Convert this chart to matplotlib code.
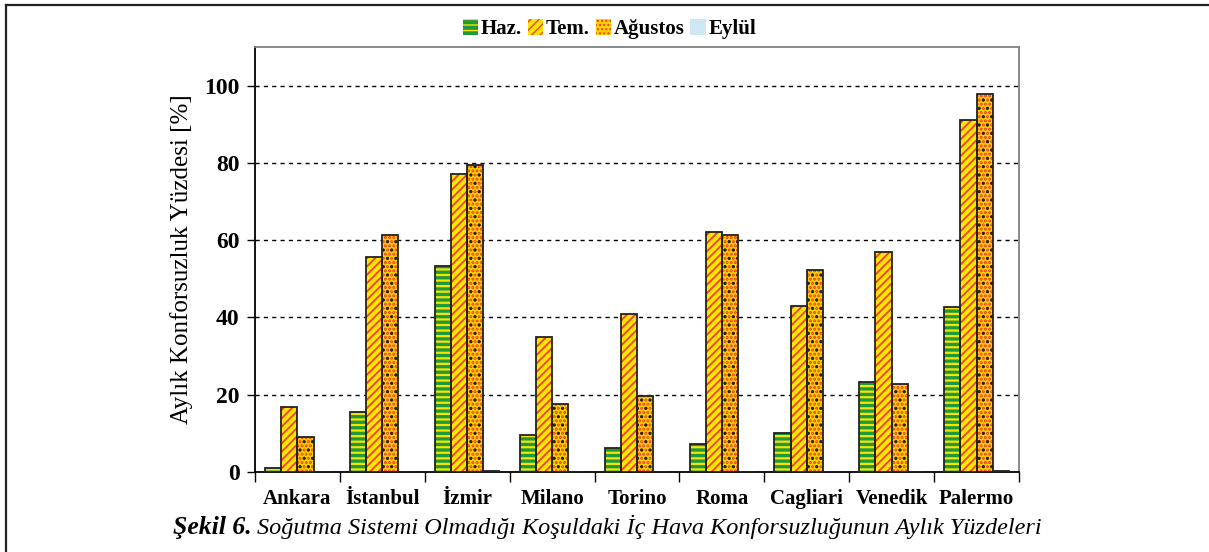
import numpy as np
import matplotlib
matplotlib.use('Agg')
import matplotlib.pyplot as plt
from matplotlib.patches import Patch
from matplotlib.lines import Line2D

plt.rcParams['font.family'] = ['Liberation Serif', 'DejaVu Serif']

cities = ['Ankara', 'İstanbul', 'İzmir', 'Milano', 'Torino', 'Roma', 'Cagliari', 'Venedik', 'Palermo']
months = ['Haz.', 'Tem.', 'Ağustos', 'Eylül']
haz = [1.0, 15.6, 53.2, 9.5, 6.2, 7.3, 10.0, 23.3, 42.7]
tem = [16.8, 55.7, 77.2, 35.0, 40.8, 62.1, 43.0, 57.0, 91.2]
agu = [9.0, 61.3, 79.4, 17.5, 19.8, 61.4, 52.2, 22.8, 97.8]
eyl = [0.0, 0.0, 0.3, 0.0, 0.0, 0.0, 0.0, 0.0, 0.3]
yticks = [0, 20, 40, 60, 80, 100]

# fill colour, list of (hatch, hatch colour, hatch linewidth)
styles = [
    ('#1f9a3a', [('---', '#f7e400', 1.6)]),
    ('#ffe600', [('////', '#f0402a', 1.3)]),
    ('#ffd200', [('....', '#f03a22', 1.5), ('..', '#222222', 1.1)]),
    ('#cfe6f5', []),
]

fig = plt.figure(figsize=(12.09, 5.52), dpi=100)
ax = fig.add_axes([0.2109, 0.1449, 0.6319, 0.770])

x = np.arange(len(cities))
w = 0.19
series = [haz, tem, agu, eyl]
for k, vals in enumerate(series):
    pos = x + (k - 1.5) * w
    face, hatches = styles[k]
    ax.bar(pos, vals, w, color=face, linewidth=0, zorder=3)
    for h, hc, lw in hatches:
        with plt.rc_context({'hatch.linewidth': lw}):
            ax.bar(pos, vals, w, fill=False, hatch=h, edgecolor=hc,
                   linewidth=0, zorder=4)
    ax.bar(pos, vals, w, fill=False, edgecolor='#222222', linewidth=1.3, zorder=5)

ax.set_xlim(-0.5, len(cities) - 0.5)
ax.set_ylim(0, 110)
ax.set_yticks(yticks)
ax.set_yticklabels([str(t) for t in yticks], fontsize=17, fontweight='bold')
ax.set_xticks(x)
ax.set_xticklabels(cities, fontsize=15, fontweight='bold')
ax.set_xticks(np.arange(-0.5, len(cities)), minor=True)
ax.tick_params(axis='x', which='major', length=0, pad=12)
ax.tick_params(axis='x', which='minor', length=7, width=1, direction='out')
ax.tick_params(axis='y', length=6, width=1, direction='out', pad=5)
ax.set_ylabel('Aylık Konforsuzluk Yüzdesi [%]', fontsize=18, labelpad=8)

for y in yticks[1:]:
    ax.axhline(y, color='black', linestyle=(0, (3, 3)), linewidth=1.0, zorder=1)

ax.spines['left'].set_color('black')
ax.spines['bottom'].set_color('black')
ax.spines['top'].set_color('#808080')
ax.spines['right'].set_color('#808080')
for s in ax.spines.values():
    s.set_linewidth(1.3)

# legend with the same patterned swatches
handles = []
for k, name in enumerate(months):
    face, hatches = styles[k]
    h = hatches[0][0] if hatches else None
    hc = hatches[0][1] if hatches else '#222222'
    handles.append(Patch(facecolor=face, edgecolor=hc, hatch=h, linewidth=0))
fig.legend(handles, months, loc='center', bbox_to_anchor=(0.504, 0.947), ncol=4,
           frameon=False, prop={'size': 15, 'weight': 'bold'},
           handlelength=0.75, handleheight=0.75, handletextpad=0.1,
           columnspacing=0.3, borderaxespad=0)

# caption
fig.text(0.2085, 0.045, 'Şekil 6.', fontsize=18.5, fontweight='bold', style='italic',
         ha='right', va='center')
fig.text(0.2125, 0.045, 'Soğutma Sistemi Olmadığı Koşuldaki İç Hava Konforsuzluğunun Aylık Yüzdeleri',
         fontsize=17.5, style='italic', ha='left', va='center')

# outer frame lines
fig.add_artist(Line2D([0.005, 0.005], [0.0, 0.991], color='#222222', linewidth=1.6,
                      transform=fig.transFigure))
fig.add_artist(Line2D([0.005, 1.0], [0.991, 0.991], color='#222222', linewidth=1.6,
                      transform=fig.transFigure))

fig.savefig('out.png', dpi=100)
